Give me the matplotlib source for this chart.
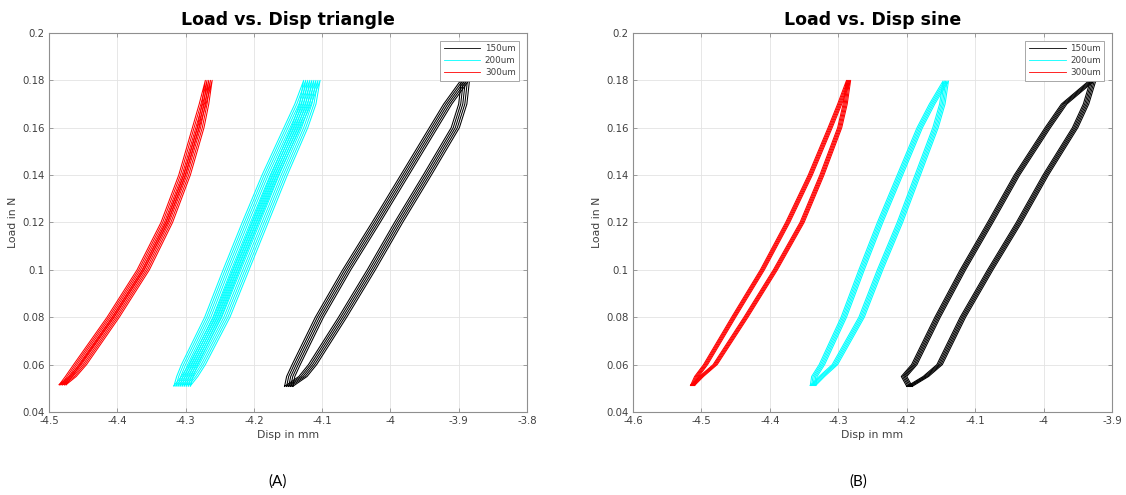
import matplotlib
matplotlib.use("Agg")
import matplotlib.pyplot as plt
from matplotlib.lines import Line2D

plt.rcParams['axes.unicode_minus'] = False
plt.rcParams['font.family'] = ['DejaVu Sans']

# ---------------------------------------------------------------------------
# Hysteresis loops: load levels (N) at which the two branches are sampled,
# x position (mm) of the loading branch (up) and unloading branch (dn),
# the lower / upper turning points, and the drift of each recorded cycle.
# ---------------------------------------------------------------------------
LEVELS = [0.055, 0.06, 0.08, 0.10, 0.12, 0.14, 0.16, 0.17]
SERIES = ['150um', '200um', '300um']
COLORS = ['#000000', '#00ffff', '#ff0000']

# triangle waveform
tri_150_lo = (-4.149, 0.0508)
tri_150_hi = (-3.890, 0.1804)
tri_150_up = [-4.146, -4.138, -4.104, -4.064, -4.021, -3.979, -3.937, -3.916]
tri_150_dn = [-4.128, -4.114, -4.070, -4.028, -3.988, -3.946, -3.905, -3.894]
tri_150_shift = [-0.006, -0.003, 0.0, 0.003, 0.006]

tri_200_lo = (-4.305, 0.0510)
tri_200_hi = (-4.115, 0.1800)
tri_200_up = [-4.301, -4.294, -4.260, -4.233, -4.205, -4.176, -4.144, -4.128]
tri_200_dn = [-4.294, -4.283, -4.247, -4.219, -4.191, -4.163, -4.133, -4.121]
tri_200_shift = [-0.012, -0.009, -0.006, -0.003, 0.0, 0.003, 0.006, 0.009, 0.012]

tri_300_lo = (-4.480, 0.0515)
tri_300_hi = (-4.266, 0.1800)
tri_300_up = [-4.471, -4.459, -4.410, -4.366, -4.331, -4.305, -4.285, -4.275]
tri_300_dn = [-4.465, -4.450, -4.402, -4.358, -4.324, -4.298, -4.278, -4.271]
tri_300_shift = [-0.005, -0.0025, 0.0, 0.0025, 0.005]

# sine waveform
sin_150_lo = (-4.196, 0.0508)
sin_150_hi = (-3.927, 0.1805)
sin_150_up = [-4.204, -4.189, -4.155, -4.118, -4.078, -4.039, -3.994, -3.970]
sin_150_dn = [-4.172, -4.152, -4.118, -4.078, -4.036, -3.997, -3.954, -3.938]
sin_150_shift = [-0.004, -0.002, 0.0, 0.002, 0.004]

sin_200_lo = (-4.337, 0.0512)
sin_200_hi = (-4.143, 0.1797)
sin_200_up = [-4.335, -4.324, -4.292, -4.266, -4.239, -4.210, -4.181, -4.163]
sin_200_dn = [-4.324, -4.305, -4.266, -4.239, -4.210, -4.184, -4.158, -4.148]
sin_200_shift = [-0.004, -0.002, 0.0, 0.002, 0.004]

sin_300_lo = (-4.513, 0.0512)
sin_300_hi = (-4.285, 0.1800)
sin_300_up = [-4.507, -4.494, -4.453, -4.411, -4.374, -4.341, -4.312, -4.298]
sin_300_dn = [-4.500, -4.480, -4.435, -4.392, -4.353, -4.324, -4.298, -4.290]
sin_300_shift = [-0.003, -0.0015, 0.0, 0.0015, 0.003]

TRI_XTICKS = [-4.5, -4.4, -4.3, -4.2, -4.1, -4.0, -3.9, -3.8]
TRI_XLABELS = ['-4.5', '-4.4', '-4.3', '-4.2', '-4.1', '-4', '-3.9', '-3.8']
SIN_XTICKS = [-4.6, -4.5, -4.4, -4.3, -4.2, -4.1, -4.0, -3.9]
SIN_XLABELS = ['-4.6', '-4.5', '-4.4', '-4.3', '-4.2', '-4.1', '-4', '-3.9']
YTICKS = [0.04, 0.06, 0.08, 0.10, 0.12, 0.14, 0.16, 0.18, 0.20]
YLABELS = ['0.04', '0.06', '0.08', '0.1', '0.12', '0.14', '0.16', '0.18', '0.2']

PANELS = [
    dict(title='Load vs. Disp triangle', tag='(A)',
         xticks=TRI_XTICKS, xlabels=TRI_XLABELS,
         loops=[(tri_150_lo, tri_150_hi, tri_150_up, tri_150_dn, tri_150_shift),
                (tri_200_lo, tri_200_hi, tri_200_up, tri_200_dn, tri_200_shift),
                (tri_300_lo, tri_300_hi, tri_300_up, tri_300_dn, tri_300_shift)]),
    dict(title='Load vs. Disp sine', tag='(B)',
         xticks=SIN_XTICKS, xlabels=SIN_XLABELS,
         loops=[(sin_150_lo, sin_150_hi, sin_150_up, sin_150_dn, sin_150_shift),
                (sin_200_lo, sin_200_hi, sin_200_up, sin_200_dn, sin_200_shift),
                (sin_300_lo, sin_300_hi, sin_300_up, sin_300_dn, sin_300_shift)]),
]

AX_RECTS = [[0.0435, 0.1677, 0.4245, 0.7657],
            [0.5622, 0.1677, 0.4254, 0.7657]]
TAG_X = [0.247, 0.762]

TEXT_GRAY = '#404040'
SPINE_GRAY = '#8f8f8f'

fig = plt.figure(figsize=(11.26, 4.95), dpi=100)

for panel, rect, tag_x in zip(PANELS, AX_RECTS, TAG_X):
    ax = fig.add_axes(rect)
    for (lo, hi, up, dn, shifts), color in zip(panel['loops'], COLORS):
        for s in shifts:
            xs = [lo[0] + s] + [u + s for u in up] + [hi[0] + s] \
                 + [d + s for d in reversed(dn)] + [lo[0] + s]
            ys = [lo[1]] + LEVELS + [hi[1]] + list(reversed(LEVELS)) + [lo[1]]
            ax.plot(xs, ys, color=color, lw=0.75, solid_joinstyle='round')

    ax.set_xlim(panel['xticks'][0], panel['xticks'][-1])
    ax.set_ylim(YTICKS[0], YTICKS[-1])
    ax.set_xticks(panel['xticks'])
    ax.set_xticklabels(panel['xlabels'])
    ax.set_yticks(YTICKS)
    ax.set_yticklabels(YLABELS)
    ax.grid(True, color='#e3e3e3', lw=0.6)
    ax.set_axisbelow(True)
    ax.tick_params(direction='in', top=True, right=True, length=3, width=0.6,
                   color=SPINE_GRAY, labelcolor=TEXT_GRAY, labelsize=7.3, pad=3)
    for sp in ax.spines.values():
        sp.set_color(SPINE_GRAY)
        sp.set_linewidth(0.8)

    ax.set_title(panel['title'], fontsize=12.5, fontweight='bold', pad=6)
    ax.set_xlabel('Disp in mm', fontsize=7.8, color=TEXT_GRAY, labelpad=3)
    ax.set_ylabel('Load in N', fontsize=7.8, color=TEXT_GRAY, labelpad=3)

    handles = [Line2D([], [], color=c, lw=0.6) for c in COLORS]
    leg = ax.legend(handles, SERIES, loc='upper right', fontsize=6.3,
                    handlelength=4.2, handletextpad=0.5, labelspacing=0.35,
                    borderpad=0.4, borderaxespad=0.9, fancybox=False,
                    framealpha=1.0, edgecolor='#9a9a9a')
    leg.get_frame().set_linewidth(0.6)
    for t in leg.get_texts():
        t.set_color(TEXT_GRAY)

    fig.text(tag_x, 0.028, panel['tag'], fontsize=11, ha='center',
             va='center', family=['Lato', 'DejaVu Sans'])

fig.savefig('out.png', dpi=100, facecolor='white')
